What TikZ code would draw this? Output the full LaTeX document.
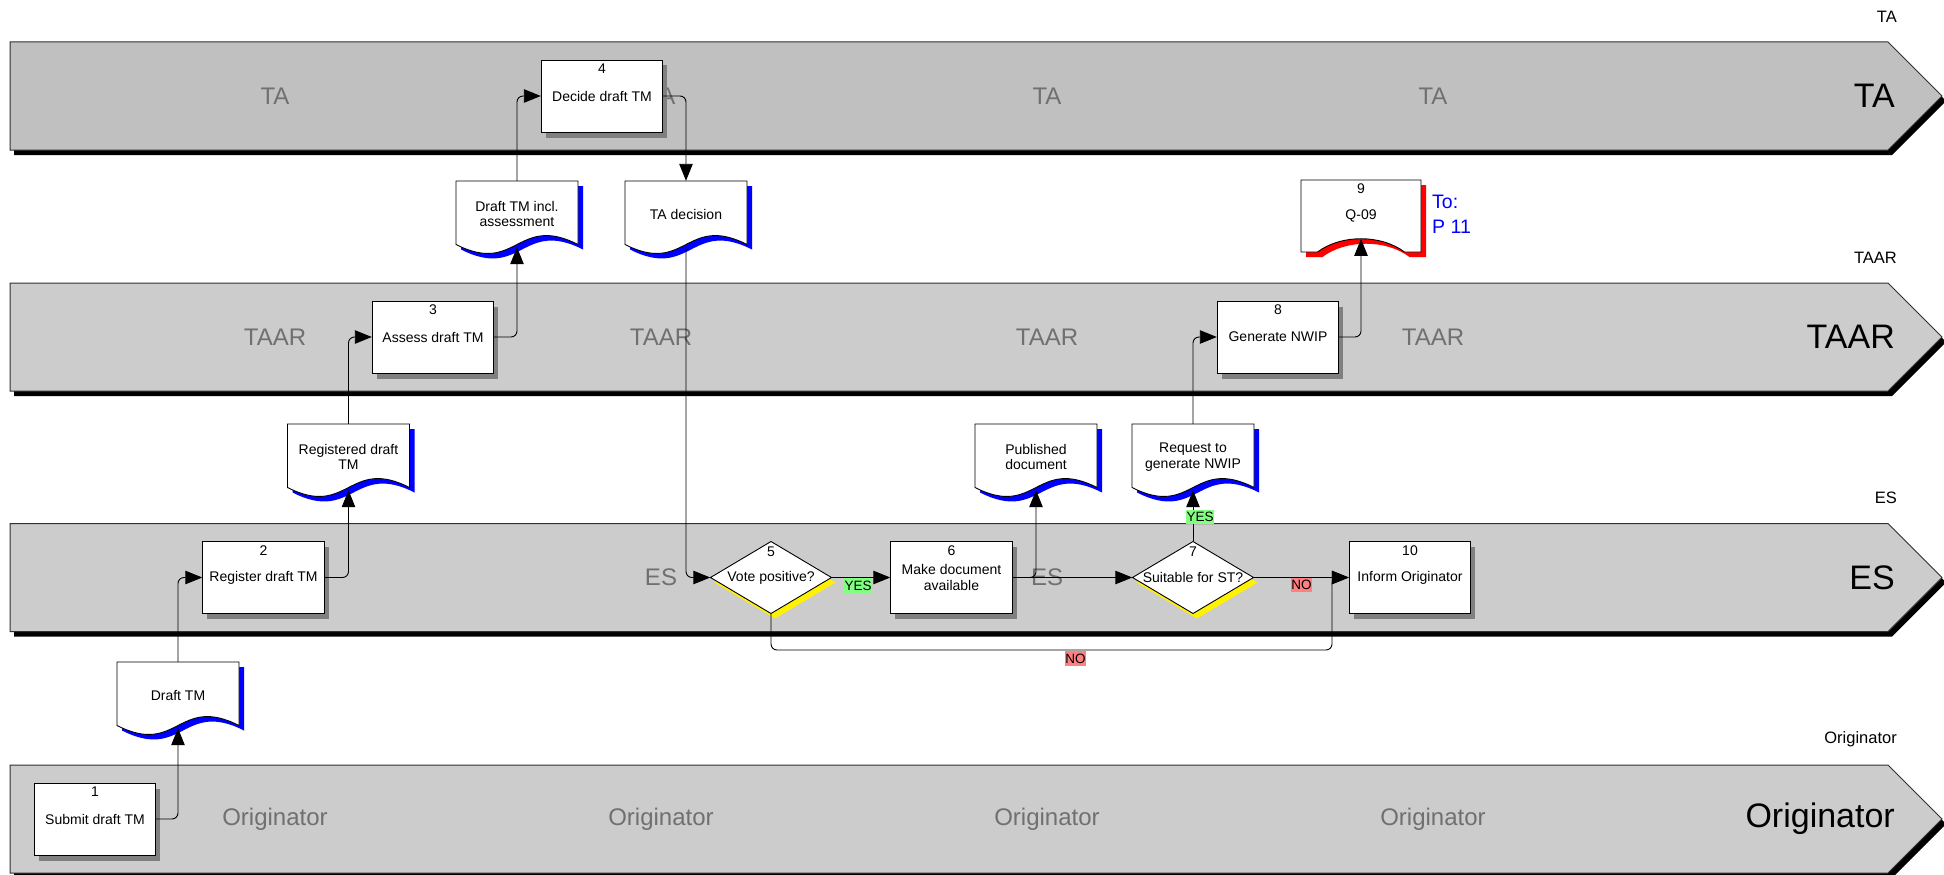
\documentclass[tikz,border=0pt]{standalone}
\usepackage{fontspec}
\setmainfont{Liberation Sans}
\usetikzlibrary{arrows.meta,shadows}

\definecolor{laneA}{HTML}{C0C0C0}
\definecolor{laneB}{HTML}{CCCCCC}
\definecolor{laneline}{HTML}{303030}
\definecolor{wmark}{HTML}{707070}
\definecolor{boxshadow}{HTML}{808080}
\definecolor{yesgreen}{HTML}{80FF80}
\definecolor{nored}{HTML}{FF8080}

\newcommand\flowfont{\fontsize{14}{15.8}\selectfont}
\newcommand\tagfont{\fontsize{13.5}{15}\selectfont}

% swimlane band with black drop shadow: #1 = top y, #2 = fill colour
\newcommand\lanebar[2]{%
  \fill[black] (14,#1+5) -- (1892,#1+5) -- (1946,#1+59) -- (1892,#1+113) -- (14,#1+113) -- cycle;
  \filldraw[fill=#2, draw=laneline, line width=1pt] (10,#1) -- (1888,#1) -- (1942,#1+54) -- (1888,#1+108) -- (10,#1+108) -- cycle;}

% document symbol with wavy bottom and blue shadow: #1 = centre x, #2 = top y
\newcommand\docshape[2]{%
  \fill[blue] (#1-56,#2+5) -- (#1+66,#2+5) -- (#1+66,#2+68.5)
     .. controls (#1+5,#2+37.5) and (#1+5,#2+99.5) .. (#1-56,#2+68.5) -- cycle;
  \filldraw[fill=white, draw=black, line width=0.9pt] (#1-61,#2) -- (#1+61,#2) -- (#1+61,#2+63.5)
     .. controls (#1,#2+32.5) and (#1,#2+94.5) .. (#1-61,#2+63.5) -- cycle;}

% decision diamond with yellow shadow: #1 = centre x, #2 = centre y
\newcommand\decshape[2]{%
  \fill[yellow] (#1-56.5,#2+5) -- (#1+4,#2-31) -- (#1+64.5,#2+5) -- (#1+4,#2+41) -- cycle;
  \filldraw[fill=white, draw=black, line width=0.9pt] (#1-60.5,#2) -- (#1,#2-36) -- (#1+60.5,#2) -- (#1,#2+36) -- cycle;}

% off-page reference with arched bottom and red shadow: #1 = centre x, #2 = top y
\newcommand\offpage[2]{%
  \fill[red] (#1-55,#2+5) -- (#1+65,#2+5) -- (#1+65,#2+77) -- (#1+48.5,#2+77)
     .. controls (#1+25,#2+59.3) and (#1-15,#2+59.3) .. (#1-38.5,#2+77) -- (#1-55,#2+77) -- cycle;
  \filldraw[fill=white, draw=black, line width=0.9pt] (#1-60,#2) -- (#1+60,#2) -- (#1+60,#2+72) -- (#1+43.5,#2+72)
     .. controls (#1+20,#2+54.3) and (#1-20,#2+54.3) .. (#1-43.5,#2+72) -- (#1-60,#2+72) -- cycle;}

\begin{document}
\begin{tikzpicture}[x=1pt,y=-1pt,
  procbox/.style={draw=black, line width=0.9pt, fill=white, minimum width=121.5pt,
    minimum height=72pt, inner sep=0pt, align=center, font=\flowfont,
    drop shadow={shadow xshift=4.5pt, shadow yshift=-5.5pt, fill=boxshadow, opacity=1}},
  shapetext/.style={minimum width=121pt, minimum height=72pt, inner sep=0pt, align=center, font=\flowfont},
  doctext/.style={shapetext, minimum height=66pt},
  stepnum/.style={font=\flowfont, inner sep=0pt},
  flow/.style={draw=black, line width=0.9pt, rounded corners=6pt, -{Triangle[length=17pt,width=13.5pt]}},
  yestag/.style={fill=yesgreen, font=\tagfont, inner xsep=0.6pt, inner ysep=2.6pt, text height=9.7pt, text depth=0pt},
  notag/.style={yestag, fill=nored},
  wmarktext/.style={text=wmark, font=\fontsize{24}{28}\selectfont, inner sep=0pt},
  lanetitle/.style={font=\fontsize{34}{40}\selectfont, anchor=east, inner sep=0pt},
  lanetag/.style={font=\fontsize{16.5}{19}\selectfont, anchor=east, inner sep=0pt},
  reftext/.style={text=blue, font=\fontsize{19.5}{25}\selectfont, align=left, anchor=west, inner sep=0pt}
]
\useasboundingbox (0,0) rectangle (1944,875);

% ---- swimlanes ----
\lanebar{42}{laneA}
\lanebar{283}{laneB}
\lanebar{523.5}{laneB}
\lanebar{765}{laneB}

\node[lanetag] (tagTA) at (1897,16.5) {TA};
\node[lanetag] (tagTAAR) at (1897,257.5) {TAAR};
\node[lanetag] (tagES) at (1897,498) {ES};
\node[lanetag] (tagOR) at (1897,739.5) {Originator};

\node[lanetitle] (titleTA) at (1895,96) {TA};
\node[lanetitle] (titleTAAR) at (1895,337) {TAAR};
\node[lanetitle] (titleES) at (1895,577.5) {ES};
\node[lanetitle] (titleOR) at (1895,819) {Originator};

% faint lane names repeated along each band
\foreach \wx [count=\i] in {275,661,1047,1433} {
  \node[wmarktext] (wTA\i) at (\wx,96) {TA};
  \node[wmarktext] (wTAAR\i) at (\wx,337) {TAAR};
  \node[wmarktext] (wOR\i) at (\wx,819) {Originator};
}
\node[wmarktext] (wES2) at (661,577.5) {ES};
\node[wmarktext] (wES3) at (1047,577.5) {ES};

% ---- process steps ----
\node[procbox] (b1) at (95,819) {Submit draft TM};
\node[procbox] (b2) at (263.5,577.5) {Register draft TM};
\node[procbox] (b3) at (433,337) {Assess draft TM};
\node[procbox] (b4) at (602,96) {Decide draft TM};
\node[procbox] (b6) at (951.5,577.5) {Make document\\available};
\node[procbox] (b8) at (1278,337) {Generate NWIP};
\node[procbox] (b10) at (1410,577.5) {Inform Originator};

\node[stepnum] (n1) at ([yshift=-9.5pt]b1.north) {1};
\node[stepnum] (n2) at ([yshift=-9.5pt]b2.north) {2};
\node[stepnum] (n3) at ([yshift=-9.5pt]b3.north) {3};
\node[stepnum] (n4) at ([yshift=-9.5pt]b4.north) {4};
\node[stepnum] (n6) at ([yshift=-9.5pt]b6.north) {6};
\node[stepnum] (n8) at ([yshift=-9.5pt]b8.north) {8};
\node[stepnum] (n10) at ([yshift=-9.5pt]b10.north) {10};

% ---- decisions ----
\decshape{771}{577.5}
\node[shapetext] (d5) at (771,577.5) {Vote positive?};
\node[stepnum] (n5) at (771,552) {5};
\decshape{1193}{577.5}
\node[shapetext] (d7) at (1193,577.5) {Suitable for ST?};
\node[stepnum] (n7) at (1193,552) {7};

% ---- documents ----
\docshape{178}{662}
\node[doctext] (dTM) at (178,695) {Draft TM};
\docshape{348.5}{424}
\node[doctext] (dReg) at (348.5,457) {Registered draft\\TM};
\docshape{517}{181}
\node[doctext] (dIncl) at (517,214) {Draft TM incl.\\assessment};
\docshape{686}{181}
\node[doctext] (dDec) at (686,214) {TA decision};
\docshape{1036}{424}
\node[doctext] (dPub) at (1036,457) {Published\\document};
\docshape{1193}{424}
\node[doctext] (dReq) at (1193,457) {Request to\\generate NWIP};

% ---- off-page reference ----
\offpage{1361}{180}
\node[shapetext] (q9) at (1361,216) {Q-09};
\node[stepnum] (n9) at (1361,188.5) {9};
\node[reftext] (toref) at (1432,214.5) {To:\\P 11};

% ---- connectors ----
\coordinate (q9arc) at ([yshift=13.3pt]q9.south);
\coordinate (noturn) at (1332,650);

\draw[flow] (b1.east) -| (dTM.south);
\draw[flow] (dTM.north) |- (b2.west);
\draw[flow] (b2.east) -| (dReg.south);
\draw[flow] (dReg.north) |- (b3.west);
\draw[flow] (b3.east) -| (dIncl.south);
\draw[flow] (dIncl.north) |- (b4.west);
\draw[flow] (b4.east) -| (dDec.north);
\draw[flow] (dDec.south) |- (d5.west);
\draw[flow] (d5.east) -- (b6.west);
\draw[flow] (d5.south) |- (noturn) |- (b10.west);
\draw[flow] (b6.east) -| (dPub.south);
\draw[flow] (b6.east) -- (d7.west);
\draw[flow] (d7.north) -- (dReq.south);
\draw[flow] (d7.east) -- (b10.west);
\draw[flow] (dReq.north) |- (b8.west);
\draw[flow] (b8.east) -| (q9arc);

% ---- branch labels ----
\node[yestag] (yes5) at (858,585.8) {YES};
\node[notag] (no5) at (1075.5,658.5) {NO};
\node[yestag] (yes7) at (1200,517) {YES};
\node[notag] (no7) at (1301.5,585) {NO};
\end{tikzpicture}
\end{document}
